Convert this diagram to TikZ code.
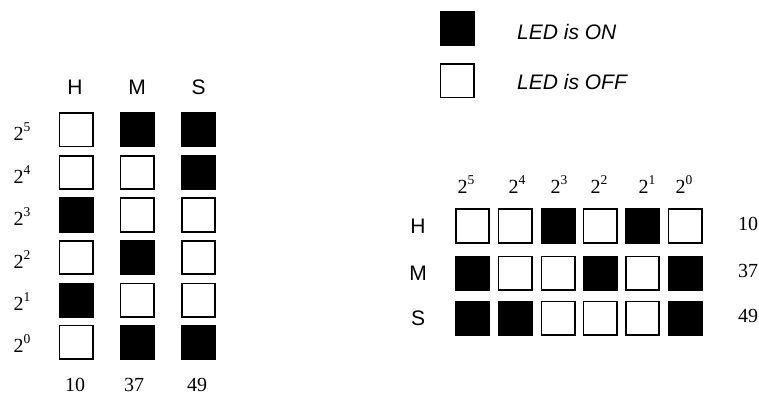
\documentclass[tikz,border=0pt]{standalone}
\usepackage{fontspec}
\setmainfont{Liberation Serif}
\newfontfamily\arialf{Liberation Sans}
\tikzset{
  ledoff/.style={draw=black, fill=white, line width=1.6pt, minimum size=33.4pt, inner sep=0pt},
  ledon/.style={draw=black, fill=black, line width=1.6pt, minimum size=33.4pt, inner sep=0pt},
  sanslbl/.style={font=\arialf\fontsize{21}{24}\selectfont, inner sep=0pt},
  itlbl/.style={font=\arialf\itshape\fontsize{21}{24}\selectfont, inner sep=0pt, anchor=west},
  serlbl/.style={font=\fontsize{20}{23}\selectfont, inner sep=0pt},
}
\newcommand{\pw}[1]{2\raisebox{0.45em}{\fontsize{13.5}{14}\selectfont #1}}
\begin{document}
\begin{tikzpicture}[x=1pt,y=-1pt]
\useasboundingbox[fill=white] (0,0) rectangle (759,395);
% legend
\node[ledon] (legon) at (457,29) {};
\node[ledoff] (legoff) at (457,81) {};
\node[itlbl] (txton) at (517,32) {LED is ON};
\node[itlbl] (txtoff) at (517,82) {LED is OFF};
% left grid headers
\node[sanslbl] (lh) at (75,87) {H};
\node[sanslbl] (lm) at (137,87) {M};
\node[sanslbl] (ls) at (198.5,87) {S};
% left exponent labels
\node[serlbl] (le5) at (22,132) {\pw{5}};
\node[serlbl] (le4) at (22,174.5) {\pw{4}};
\node[serlbl] (le3) at (22,217) {\pw{3}};
\node[serlbl] (le2) at (22,259.5) {\pw{2}};
\node[serlbl] (le1) at (22,302) {\pw{1}};
\node[serlbl] (le0) at (22,344) {\pw{0}};
% left grid: H = 001010, M = 100101, S = 110001
\node[ledoff] (lH5) at (76,130) {};
\node[ledoff] (lH4) at (76,172.5) {};
\node[ledon]  (lH3) at (76,215) {};
\node[ledoff] (lH2) at (76,257.5) {};
\node[ledon]  (lH1) at (76,300) {};
\node[ledoff] (lH0) at (76,342) {};
\node[ledon]  (lM5) at (137,130) {};
\node[ledoff] (lM4) at (137,172.5) {};
\node[ledoff] (lM3) at (137,215) {};
\node[ledon]  (lM2) at (137,257.5) {};
\node[ledoff] (lM1) at (137,300) {};
\node[ledon]  (lM0) at (137,342) {};
\node[ledon]  (lS5) at (198.5,130) {};
\node[ledon]  (lS4) at (198.5,172.5) {};
\node[ledoff] (lS3) at (198.5,215) {};
\node[ledoff] (lS2) at (198.5,257.5) {};
\node[ledoff] (lS1) at (198.5,300) {};
\node[ledon]  (lS0) at (198.5,342) {};
% left values
\node[serlbl] (lv10) at (75,385) {10};
\node[serlbl] (lv37) at (134,385) {37};
\node[serlbl] (lv49) at (197,385) {49};
% right grid exponent labels
\node[serlbl] (re5) at (466,185) {\pw{5}};
\node[serlbl] (re4) at (517,185) {\pw{4}};
\node[serlbl] (re3) at (559,185) {\pw{3}};
\node[serlbl] (re2) at (599,185) {\pw{2}};
\node[serlbl] (re1) at (647,185) {\pw{1}};
\node[serlbl] (re0) at (684,185) {\pw{0}};
% right row labels
\node[sanslbl] (rh) at (418,226) {H};
\node[sanslbl] (rm) at (418,273) {M};
\node[sanslbl] (rs) at (418,318) {S};
% right grid
\node[ledoff] (rH5) at (472.5,226) {};
\node[ledoff] (rH4) at (515,226) {};
\node[ledon]  (rH3) at (558,226) {};
\node[ledoff] (rH2) at (600,226) {};
\node[ledon]  (rH1) at (642.5,226) {};
\node[ledoff] (rH0) at (685,226) {};
\node[ledon]  (rM5) at (472.5,273) {};
\node[ledoff] (rM4) at (515,273) {};
\node[ledoff] (rM3) at (558,273) {};
\node[ledon]  (rM2) at (600,273) {};
\node[ledoff] (rM1) at (642.5,273) {};
\node[ledon]  (rM0) at (685,273) {};
\node[ledon]  (rS5) at (472.5,318) {};
\node[ledon]  (rS4) at (515,318) {};
\node[ledoff] (rS3) at (558,318) {};
\node[ledoff] (rS2) at (600,318) {};
\node[ledoff] (rS1) at (642.5,318) {};
\node[ledon]  (rS0) at (685,318) {};
% right values
\node[serlbl] (rv10) at (748,224) {10};
\node[serlbl] (rv37) at (748,271) {37};
\node[serlbl] (rv49) at (748,316) {49};
\end{tikzpicture}
\end{document}
